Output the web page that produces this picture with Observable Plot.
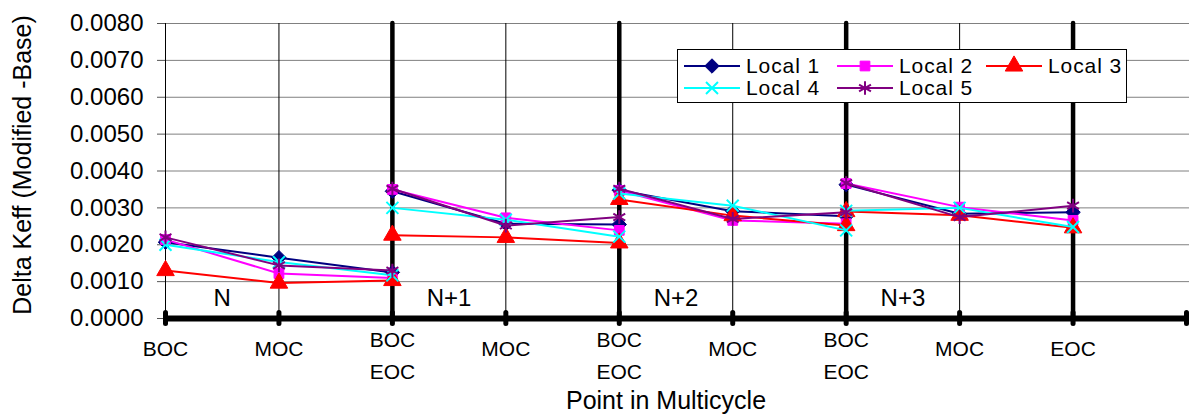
<!DOCTYPE html>
<html><head><meta charset="utf-8">
<script src="https://cdn.jsdelivr.net/npm/d3@7"></script>
<script src="https://cdn.jsdelivr.net/npm/@observablehq/plot@0.6"></script>
<style>
body{margin:0;background:#fff;font-family:"Liberation Sans",Arial,sans-serif;}
#wrap{position:relative;width:1189px;height:416px;overflow:hidden;}
#legend{position:absolute;left:677px;top:49px;width:450px;height:54px;border:1px solid #000;background:#fff;box-sizing:border-box;}
.entry{position:absolute;display:flex;align-items:center;height:22px;line-height:20px;font-size:21px;letter-spacing:0.9px;color:#000;white-space:nowrap;}
.entry svg{margin-right:6px;flex:none;}
</style></head><body><div id="wrap"></div>
<script>
// x positions of the points (0..8) and the cycle each point belongs to
const positions = [0,1,2, 2,3,4, 4,5,6, 6,7,8];
const cycles = ["N","N","N","N+1","N+1","N+1","N+2","N+2","N+2","N+3","N+3","N+3"];

const local1 = [0.00207,0.00165,0.00125, 0.00345,0.00257,0.00255, 0.00348,0.00291,0.00277, 0.00363,0.00284,0.00288];
const local2 = [0.00214,0.00122,0.00110, 0.00350,0.00273,0.00239, 0.00347,0.00266,0.00257, 0.00366,0.00302,0.00266];
const local3 = [0.00130,0.00096,0.00103, 0.00226,0.00220,0.00205, 0.00323,0.00279,0.00252, 0.00290,0.00280,0.00246];
const local4 = [0.00200,0.00153,0.00117, 0.00300,0.00268,0.00222, 0.00339,0.00306,0.00239, 0.00292,0.00300,0.00248];
const local5 = [0.00220,0.00144,0.00130, 0.00352,0.00252,0.00275, 0.00352,0.00270,0.00288, 0.00367,0.00275,0.00306];

const seriesNames = ["Local 1","Local 2","Local 3","Local 4","Local 5"];
const seriesColors = ["#000080","#FF00FF","#FF0000","#00FFFF","#800080"];
const seriesSymbols = ["diamond2","square","triangle","times","asterisk"];
const seriesFilled = [true,true,true,false,false];
const seriesValues = [local1,local2,local3,local4,local5];

const xTickPos = [0,1,2,3,4,5,6,7,8,9];
const xTickLabels = ["BOC","MOC","BOC\nEOC","MOC","BOC\nEOC","MOC","BOC\nEOC","MOC","EOC",""];
const yTicks = [0,0.001,0.002,0.003,0.004,0.005,0.006,0.007,0.008];
const thinVerticals = [1,3,5,7];
const thickVerticals = [2,4,6,8];
const cycleNames = ["N","N+1","N+2","N+3"];
const cycleLabelX = [0.5,2.5,4.5,6.5];
const cycleLabelY = 0.0005;

const labelRows = xTickPos.map((p,i)=>({x:p,label:xTickLabels[i]}));
const singleLabels = labelRows.filter(d=>d.label && !d.label.includes("\n"));
const doubleLabels = labelRows.filter(d=>d.label.includes("\n"));

const symSize = [6.5,5.5,6.5,5.5,6.5];
const seriesMarks = [];
seriesNames.forEach((name,s)=>{
  const rows = positions.map((p,i)=>({x:p,cycle:cycles[i],value:seriesValues[s][i]}));
  seriesMarks.push(Plot.line(rows,{x:"x",y:"value",z:"cycle",stroke:seriesColors[s],strokeWidth:2}));
  seriesMarks.push(Plot.dot(rows,{x:"x",y:"value",symbol:()=>seriesSymbols[s],r:symSize[s],
    fill:seriesFilled[s]?seriesColors[s]:"none",stroke:seriesColors[s],strokeWidth:seriesFilled[s]?1:2}));
});

const chart = Plot.plot({
  width:1189, height:416,
  marginLeft:165, marginRight:3, marginTop:23, marginBottom:98,
  style:{fontFamily:"'Liberation Sans', Arial, sans-serif", background:"#fff", color:"#000"},
  x:{domain:[0,9], axis:null},
  y:{domain:[0,0.008], axis:null},
  marks:[
    Plot.ruleY(yTicks.slice(1),{stroke:"#808080",strokeWidth:1,insetRight:-3}),
    Plot.axisY({ticks:yTicks,tickFormat:d3.format(".4f"),tickSize:8,tickPadding:14,fontSize:24,stroke:"#555",label:null}),
    Plot.ruleX([0],{stroke:"#000",strokeWidth:1}),
    Plot.ruleX(thinVerticals,{y1:0,y2:0.008,stroke:"#000",strokeWidth:1}),
    Plot.ruleX(thickVerticals,{y1:0,y2:0.008,stroke:"#000",strokeWidth:4.5,strokeLinecap:"round"}),
    Plot.ruleY([0],{stroke:"#000",strokeWidth:6}),
    Plot.ruleX(xTickPos,{y1:-0.00015,y2:0.00015,stroke:"#000",strokeWidth:5,strokeLinecap:"round"}),
    Plot.text(singleLabels,{x:"x",y:()=>0,text:"label",dy:31,fontSize:21,lineAnchor:"middle"}),
    Plot.text(doubleLabels,{x:"x",y:()=>0,text:"label",dy:34,fontSize:21,lineAnchor:"middle",lineHeight:1.52}),
    Plot.text(cycleNames,{x:(d,i)=>cycleLabelX[i],y:()=>cycleLabelY,text:d=>d,fontSize:24,dy:-2}),
    ...seriesMarks,
    Plot.text(["Delta Keff (Modified -Base)"],{frameAnchor:"left",textAnchor:"middle",rotate:-90,dx:-143,dy:-6,fontSize:25,lineAnchor:"middle"}),
    Plot.text(["Point in Multicycle"],{frameAnchor:"bottom",dx:-10,dy:82,fontSize:25,lineAnchor:"middle"})
  ]
});
const wrap = document.getElementById("wrap");
wrap.appendChild(chart);

// legend
const legend = document.createElement("div");
legend.id = "legend";
wrap.appendChild(legend);
const entryPos = [[6,5],[159,5],[308,5],[6,27],[159,27]];
seriesNames.forEach((name,s)=>{
  const e = document.createElement("div");
  e.className = "entry";
  e.style.left = entryPos[s][0]+"px";
  e.style.top = entryPos[s][1]+"px";
  const svg = d3.create("svg").attr("width",56).attr("height",22);
  svg.append("line").attr("x1",0).attr("x2",56).attr("y1",11).attr("y2",11).attr("stroke",seriesColors[s]).attr("stroke-width",2);
  const symMap = {diamond2:d3.symbolDiamond2,square:d3.symbolSquare,triangle:d3.symbolTriangle,times:d3.symbolTimes,asterisk:d3.symbolAsterisk};
  const r = symSize[s];
  svg.append("path").attr("transform","translate(28,11)")
    .attr("d",d3.symbol(symMap[seriesSymbols[s]],r*r*Math.PI)())
    .attr("fill",seriesFilled[s]?seriesColors[s]:"none").attr("stroke",seriesColors[s]).attr("stroke-width",seriesFilled[s]?1:2);
  e.appendChild(svg.node());
  const t = document.createElement("span");
  t.textContent = name;
  e.appendChild(t);
  legend.appendChild(e);
});
</script></body></html>
